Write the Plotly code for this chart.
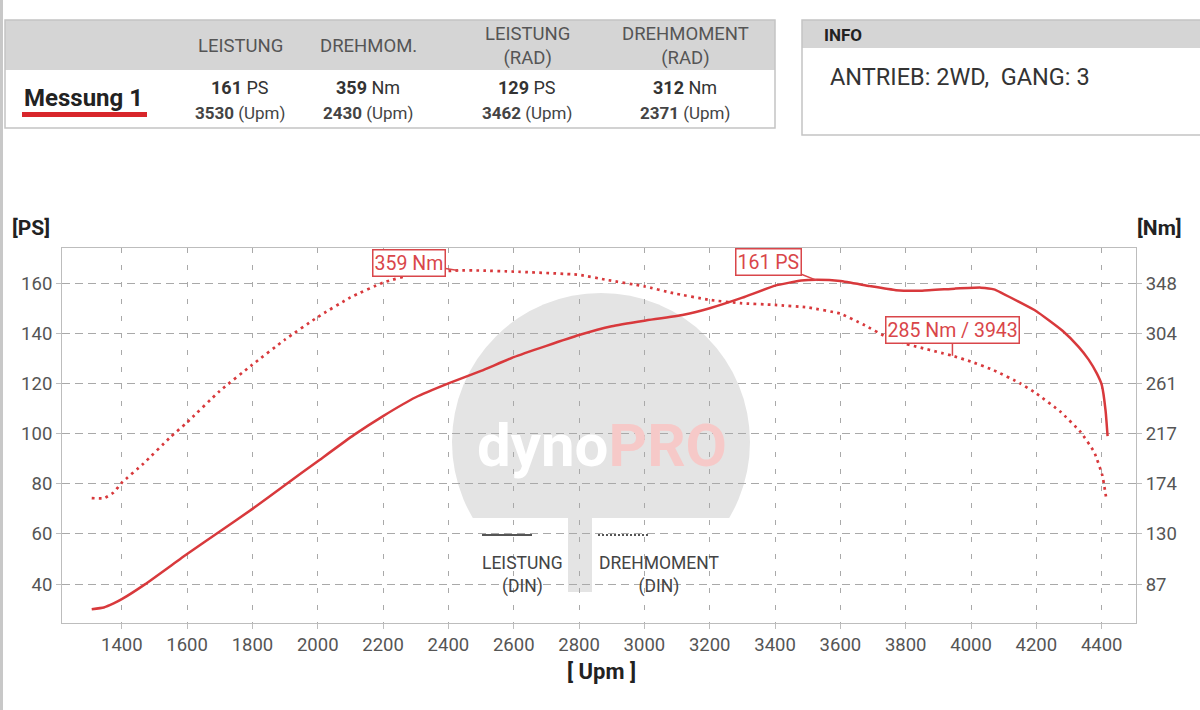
import plotly.graph_objects as go

# ---------------- data ----------------
rpm_power = [1308, 1345, 1375, 1400, 1472, 1600, 1700, 1800, 1900, 2000, 2111, 2200, 2300, 2400,
             2500, 2600, 2700, 2800, 2900, 3000, 3120, 3200, 3300, 3400, 3480, 3530, 3600, 3690,
             3770, 3850, 3950, 4030, 4070, 4150, 4200, 4280, 4330, 4360, 4385, 4400, 4412, 4418]
ps_power = [30.0, 30.7, 32.3, 34.0, 40.0, 52.0, 61.0, 70.0, 79.5, 89.0, 99.5, 107.0, 114.5, 120.0,
            125.0, 130.5, 135.0, 139.3, 142.8, 145.0, 147.4, 150.0, 154.2, 159.0, 161.0, 161.3, 160.8, 158.8,
            157.2, 157.0, 157.8, 158.2, 157.5, 152.3, 148.8, 141.0, 134.5, 129.5, 124.0, 119.5, 109.0, 99.0]

rpm_torque = [1308, 1345, 1375, 1400, 1466, 1548, 1600, 1700, 1800, 1900, 2000, 2100, 2200, 2300,
              2430, 2500, 2600, 2800, 2884, 3000, 3088, 3200, 3294, 3400, 3500, 3600, 3670, 3742,
              3800, 3943, 4000, 4069, 4151, 4200, 4274, 4335, 4377, 4402, 4415]
nm_torque = [161.6, 161.4, 166.4, 174.9, 191.4, 214.2, 227.3, 254.5, 277.3, 299.1, 318.6, 335.6, 348.4, 356.3,
             359.0, 358.9, 358.0, 355.2, 350.8, 345.2, 339.3, 333.4, 330.6, 329.1, 326.9, 321.5, 312.1, 301.2,
             295.4, 285.0, 279.9, 272.5, 261.0, 252.3, 236.4, 219.0, 201.6, 181.2, 159.4]

x_ticks = [1400, 1600, 1800, 2000, 2200, 2400, 2600, 2800, 3000, 3200, 3400, 3600, 3800, 4000, 4200, 4400]
ps_ticks = [40, 60, 80, 100, 120, 140, 160]
nm_tick_labels = ["87", "130", "174", "217", "261", "304", "348"]

header_labels = ["LEISTUNG", "DREHMOM.", "LEISTUNG<br>(RAD)", "DREHMOMENT<br>(RAD)"]
header_values = ["161", "359", "129", "312"]
header_units = ["PS", "Nm", "PS", "Nm"]
header_rpm = ["3530", "2430", "3462", "2371"]

peak_ps = (3530, 161)
peak_nm = (2430, 359)
point_nm = (3943, 285)

# ---------------- layout helpers ----------------
W, H = 1200, 710
L, R, T, B = 62, 1136, 248, 623
def px(X):
    return (X - L) / (R - L)
def py(Y):
    return (B - Y) / (B - T)

nm_scale = float(nm_tick_labels[-1]) / ps_ticks[-1]
ps_range = [24.5, 174.0]
nm_range = [v * nm_scale for v in ps_range]
nm_tickvals = [v * nm_scale for v in ps_ticks]

RED = "#d8393c"
LBL = "#d9464a"
FONT = "Roboto"

fig = go.Figure()
fig.add_trace(go.Scatter(x=rpm_power, y=ps_power, mode="lines", name="LEISTUNG (DIN)",
                         line=dict(color=RED, width=2.5, shape="spline", smoothing=0.4),
                         showlegend=False))
fig.add_trace(go.Scatter(x=rpm_torque, y=nm_torque, mode="lines", name="DREHMOMENT (DIN)", yaxis="y2",
                         line=dict(color=RED, width=2.7, dash="2.7px,4.3px", shape="spline", smoothing=0.4),
                         showlegend=False))

shapes = []
def rect(X0, Y0, X1, Y1, fill=None, line=None, lw=1, layer="below", ctype="rect"):
    shapes.append(dict(type=ctype, xref="paper", yref="paper", x0=px(X0), x1=px(X1), y0=py(Y1), y1=py(Y0),
                       fillcolor=fill if fill else "rgba(0,0,0,0)",
                       line=dict(color=line if line else "rgba(0,0,0,0)", width=lw if line else 0),
                       layer=layer))

# watermark
rect(452, 293, 750, 591, fill="#e4e4e4", ctype="circle")
rect(430, 518, 770, 600, fill="white")
rect(568, 516, 592, 592, fill="#e4e4e4")

# header boxes
rect(5, 20, 775, 70, fill="#d5d5d5", layer="above")
rect(5, 20, 775, 128, line="#c4c4c4", lw=1.5, layer="above")
rect(802, 20, 1200, 48, fill="#d5d5d5", layer="above")
rect(802, 20, 1201, 135, line="#c4c4c4", lw=1.5, layer="above")
rect(22, 112, 147, 117, fill="#d8262b", layer="above")
rect(0, 0, 3, 710, fill="#c8c8c8", layer="above")

# in-plot legend lines
shapes.append(dict(type="line", xref="paper", yref="paper", x0=px(482), x1=px(532), y0=py(535), y1=py(535),
                   line=dict(color="#555555", width=2), layer="above"))
shapes.append(dict(type="line", xref="paper", yref="paper", x0=px(598), x1=px(648), y0=py(535), y1=py(535),
                   line=dict(color="#555555", width=2, dash="2px,2px"), layer="above"))

ann = []
def text(X, Y, s, size=16, color="#444", xanchor="center", bold=False, yanchor="middle", align="center"):
    if bold:
        s = "<b>" + s + "</b>"
    ann.append(dict(xref="paper", yref="paper", x=px(X), y=py(Y), text=s, showarrow=False,
                    xanchor=xanchor, yanchor=yanchor, align=align,
                    font=dict(family=FONT, size=size, color=color)))

# header table text
col_x = [240, 368, 527, 685]
for cx, lab, val, unit, rpm in zip(col_x, header_labels, header_values, header_units, header_rpm):
    text(cx, 46, lab, size=18.5, color="#555")
    text(cx, 88, "<b>" + val + "</b> " + unit, size=18, color="#333")
    text(cx, 113, "<b>" + rpm + "</b> (Upm)", size=17, color="#444")
text(22, 98, "Messung 1", size=24, color="#222", xanchor="left", bold=True)
text(822, 35, "INFO", size=17, color="#222", xanchor="left", bold=True)
text(828, 77, "ANTRIEB: 2WD,&nbsp; GANG: 3", size=23.5, color="#333", xanchor="left")

# axis titles
text(10, 228, "[PS]", size=21, color="#222", xanchor="left", bold=True)
text(1184, 228, "[Nm]", size=21, color="#222", xanchor="right", bold=True)
text(601, 671, "[ Upm ]", size=22, color="#222", bold=True)

# watermark text
text(602, 445, "<span style='color:#ffffff'><b>dyno</b></span><span style='color:#f6c9c8'><b>PRO</b></span>",
     size=60, color="#ffffff")

# legend text
text(522, 575, "LEISTUNG<br>(DIN)", size=17.5, color="#444")
text(659, 575, "DREHMOMENT<br>(DIN)", size=17.5, color="#444")

# peak labels
def peak_label(x, y, s, ax, ay, yref="y"):
    ann.append(dict(x=x, y=y, xref="x", yref=yref, text=s, showarrow=True, arrowhead=0,
                    arrowcolor=LBL, arrowwidth=1.5, ax=ax, ay=ay, standoff=0,
                    bgcolor="white", bordercolor=LBL, borderwidth=1.5, borderpad=1,
                    font=dict(family=FONT, size=19.5, color=LBL)))

peak_label(peak_nm[0], peak_nm[1], f"{peak_nm[1]} Nm", -49, -7, yref="y2")
peak_label(peak_ps[0], peak_ps[1], f"{peak_ps[1]} PS", -49, -19)
peak_label(point_nm[0], point_nm[1], f"{point_nm[1]} Nm / {point_nm[0]}", 0, -26, yref="y2")

tickfont = dict(family=FONT, size=18.5, color="#555")
axis_common = dict(showline=True, linecolor="#bdbdbd", linewidth=1, ticks="outside", ticklen=5,
                   tickcolor="#bdbdbd", gridcolor="#a9a9a9", gridwidth=1, zeroline=False,
                   tickfont=tickfont)

fig.update_layout(
    width=W, height=H,
    margin=dict(l=L, r=W - R, t=T, b=H - B, pad=0),
    paper_bgcolor="white", plot_bgcolor="white",
    font=dict(family=FONT),
    xaxis=dict(range=[1217, 4505], tickvals=x_ticks, griddash="5px,12px", mirror=True, **axis_common),
    yaxis=dict(range=ps_range, tickvals=ps_ticks, griddash="8px,5px", **axis_common),
    yaxis2=dict(range=nm_range, tickvals=nm_tickvals, ticktext=nm_tick_labels, overlaying="y", side="right",
                showgrid=False, showline=True, linecolor="#bdbdbd", ticks="outside", ticklen=5,
                tickcolor="#bdbdbd", zeroline=False, tickfont=tickfont),
    shapes=shapes,
    annotations=ann,
    showlegend=False,
)

fig.write_html("out.html")
